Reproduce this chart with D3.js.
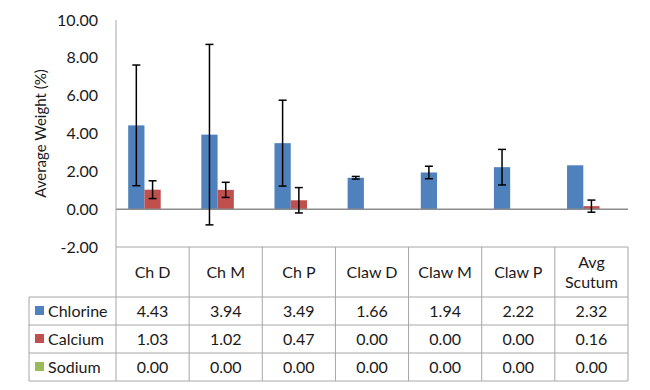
<!DOCTYPE html>
<html>
<head>
<meta charset="utf-8">
<script src="https://cdn.jsdelivr.net/npm/d3@7"></script>
<style>
  body { margin: 0; background: #fff; }
  svg { font-family: Lato, "Open Sans", sans-serif; }
</style>
</head>
<body>
<svg width="650" height="390"></svg>
<script>
// categories and series
var categories = ["Ch D", "Ch M", "Ch P", "Claw D", "Claw M", "Claw P", "Avg Scutum"];
var seriesNames = ["Chlorine", "Calcium", "Sodium"];
var chlorine = [4.43, 3.94, 3.49, 1.66, 1.94, 2.22, 2.32];
var calcium = [1.03, 1.02, 0.47, 0.00, 0.00, 0.00, 0.16];
var sodium = [0.00, 0.00, 0.00, 0.00, 0.00, 0.00, 0.00];
// error bar half-lengths
var chlorineErr = [3.19, 4.77, 2.27, 0.07, 0.33, 0.94, 0];
var calciumErr = [0.47, 0.40, 0.67, 0, 0, 0, 0.32];
var sodiumErr = [0, 0, 0, 0, 0, 0, 0];
var yTicks = [-2, 0, 2, 4, 6, 8, 10];

var colors = ["#4f81bd", "#c0504d", "#9bbb59"];
var values = [chlorine, calcium, sodium];
var errs = [chlorineErr, calciumErr, sodiumErr];

var plotLeft = 116, plotRight = 628, plotTop = 20, plotBottom = 247;
var headerBottom = 297, rowH = 28, tableLeft = 29;
var gridColor = "#a6a6a6", textColor = "#1a1a1a";
var fs = 16;

var svg = d3.select("svg");

var x = d3.scaleBand().domain(categories).range([plotLeft, plotRight]);
var xs = d3.scaleBand().domain(seriesNames).range([0, x.bandwidth()]).paddingOuter(0.75);
var y = d3.scaleLinear().domain([-2, 10]).range([plotBottom, plotTop]);

// y axis labels
svg.selectAll(".ytick")
  .data(yTicks)
  .enter()
  .append("text")
  .attr("x", 98)
  .attr("y", function(d){ return y(d); })
  .attr("dy", "0.35em")
  .attr("text-anchor", "end")
  .attr("font-size", fs)
  .attr("fill", textColor)
  .text(function(d){ return d.toFixed(2); });

svg.append("text")
  .attr("transform", "translate(46," + ((plotTop + plotBottom) / 2) + ") rotate(-90)")
  .attr("text-anchor", "middle")
  .attr("font-size", 15)
  .attr("fill", textColor)
  .text("Average Weight (%)");

// bars
seriesNames.forEach(function(s, si){
  svg.append("g").selectAll("rect")
    .data(values[si])
    .enter()
    .append("rect")
    .attr("x", function(d, i){ return x(categories[i]) + xs(s); })
    .attr("width", xs.bandwidth())
    .attr("y", function(d){ return y(Math.max(d, 0)); })
    .attr("height", function(d){ return Math.abs(y(d) - y(0)); })
    .attr("fill", colors[si]);
});

// zero line
svg.append("line")
  .attr("x1", plotLeft).attr("x2", plotRight)
  .attr("y1", y(0)).attr("y2", y(0))
  .attr("stroke", "#8c8c8c").attr("stroke-width", 1.5);

// error bars
seriesNames.forEach(function(s, si){
  var g = svg.append("g").attr("stroke", "#000").attr("stroke-width", 1.5);
  values[si].forEach(function(v, i){
    var e = errs[si][i];
    if (!e) return;
    var cx = x(categories[i]) + xs(s) + xs.bandwidth() / 2;
    g.append("line").attr("x1", cx).attr("x2", cx).attr("y1", y(v + e)).attr("y2", y(v - e));
    g.append("line").attr("x1", cx - 4).attr("x2", cx + 4).attr("y1", y(v + e)).attr("y2", y(v + e));
    g.append("line").attr("x1", cx - 4).attr("x2", cx + 4).attr("y1", y(v - e)).attr("y2", y(v - e));
  });
});

// y axis line (runs down through the data table)
var tableBottom = headerBottom + rowH * 3;
svg.append("line")
  .attr("x1", plotLeft).attr("x2", plotLeft)
  .attr("y1", plotTop).attr("y2", tableBottom)
  .attr("stroke", gridColor);

// data table grid
var grid = svg.append("g").attr("stroke", gridColor).attr("fill", "none");
grid.append("line").attr("x1", plotLeft).attr("x2", plotRight).attr("y1", plotBottom).attr("y2", plotBottom);
for (var r = 0; r <= 3; r++) {
  grid.append("line").attr("x1", tableLeft).attr("x2", plotRight)
    .attr("y1", headerBottom + r * rowH).attr("y2", headerBottom + r * rowH);
}
grid.append("line").attr("x1", tableLeft).attr("x2", tableLeft).attr("y1", headerBottom).attr("y2", tableBottom);
categories.forEach(function(c){
  var xr = x(c) + x.bandwidth();
  grid.append("line").attr("x1", xr).attr("x2", xr).attr("y1", plotBottom).attr("y2", tableBottom);
});

// header labels
categories.forEach(function(c){
  var words = c === "Avg Scutum" ? ["Avg", "Scutum"] : [c];
  var cy = (plotBottom + headerBottom) / 2;
  words.forEach(function(w, wi){
    svg.append("text")
      .attr("x", x(c) + x.bandwidth() / 2)
      .attr("y", cy + (wi - (words.length - 1) / 2) * 20)
      .attr("dy", "0.35em")
      .attr("text-anchor", "middle")
      .attr("font-size", fs)
      .attr("fill", textColor)
      .text(w);
  });
});

// rows
seriesNames.forEach(function(s, si){
  var cy = headerBottom + rowH * si + rowH / 2;
  svg.append("rect")
    .attr("x", 35).attr("y", cy - 5)
    .attr("width", 9).attr("height", 9)
    .attr("fill", colors[si]);
  svg.append("text")
    .attr("x", 48).attr("y", cy).attr("dy", "0.35em")
    .attr("font-size", fs).attr("fill", textColor)
    .text(s);
  svg.append("g").selectAll("text")
    .data(values[si])
    .enter()
    .append("text")
    .attr("x", function(d, i){ return x(categories[i]) + x.bandwidth() / 2; })
    .attr("y", cy).attr("dy", "0.35em")
    .attr("text-anchor", "middle")
    .attr("font-size", fs).attr("fill", textColor)
    .text(function(d){ return d.toFixed(2); });
});
</script>
</body>
</html>
